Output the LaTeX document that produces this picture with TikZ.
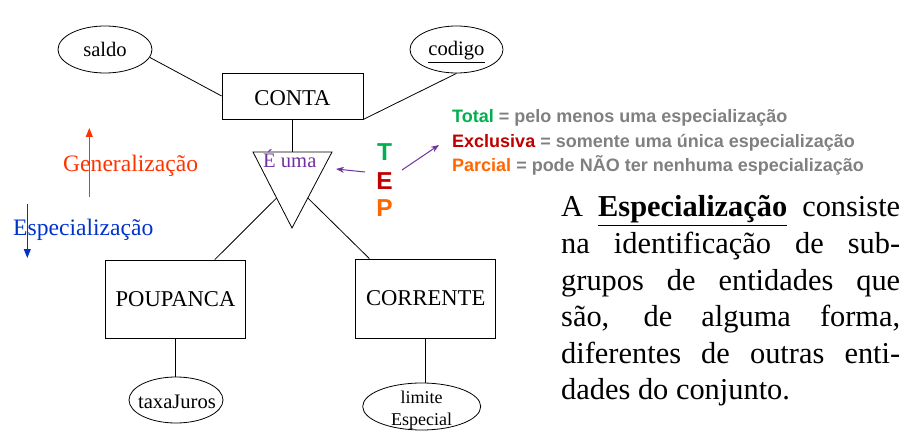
\documentclass[tikz,border=0pt]{standalone}
\usepackage{fontspec}
\setmainfont{Liberation Serif}
\newfontfamily\legendfont{Liberation Sans}
\usetikzlibrary{shapes.geometric,arrows.meta,calc}
\definecolor{gencol}{HTML}{FF3300}
\definecolor{espcol}{HTML}{0033CC}
\definecolor{purp}{HTML}{7030A0}
\definecolor{tgreen}{HTML}{00B050}
\definecolor{ered}{HTML}{C00000}
\definecolor{porange}{HTML}{FF6600}
\definecolor{legrey}{HTML}{808080}
\begin{document}
\begin{tikzpicture}[x=1pt,y=-1pt,
  entity/.style={draw,line width=0.8pt,rectangle,inner sep=0pt,font=\fontsize{22.6}{27}\selectfont},
  attr/.style={draw,line width=0.8pt,ellipse,inner sep=0pt},
  lbl/.style={anchor=base,inner sep=0pt,font=\fontsize{20.6}{24}\selectfont},
  smalllbl/.style={anchor=base,inner sep=0pt,font=\fontsize{18}{22}\selectfont},
  conn/.style={line width=0.8pt},
  dirlbl/.style={anchor=base west,inner sep=0pt,font=\fontsize{23.6}{28}\selectfont},
  tep/.style={anchor=base,inner sep=0pt,font=\legendfont\bfseries\fontsize{24.5}{28}\selectfont},
  legend/.style={anchor=base west,inner sep=0pt,text=legrey,font=\legendfont\bfseries\fontsize{18}{22}\selectfont},
  parline/.style={anchor=base west,inner sep=0pt,font=\fontsize{30.4}{36.5}\selectfont},
  purparrow/.style={draw=purp,line width=1pt,-{Stealth[length=8pt,width=6pt]}},
]
\useasboundingbox (0,0) rectangle (917,438);

% entities
\node[entity,minimum width=141pt,minimum height=46pt,text height=20pt,text depth=0pt] (conta) at (292.5,96) {CONTA};
\node[entity,minimum width=139.6pt,minimum height=78pt] (pou) at (175.5,299) {POUPANCA};
\node[entity,minimum width=140pt,minimum height=79pt] (cor) at (425.7,298.5) {CORRENTE};

% attributes
\node[attr,minimum width=94pt,minimum height=47pt] (saldo) at (105,49.5) {};
\node[lbl] (saldoT) at (105,57) {saldo};
\node[attr,minimum width=93pt,minimum height=47pt] (codigo) at (456.5,49.5) {};
\node[lbl] (codigoT) at (456.5,56) {\underline{codigo}};
\node[attr,minimum width=94pt,minimum height=46pt] (taxa) at (176,400) {};
\node[lbl] (taxaT) at (177,408) {taxaJuros};
\node[attr,minimum width=118pt,minimum height=47pt] (lim) at (421.7,406.5) {};
\node[smalllbl] (limT1) at (421.7,403) {limite};
\node[smalllbl] (limT2) at (421.7,425) {Especial};

% specialization triangle
\coordinate (tl) at (253,152);
\coordinate (tr) at (332,152);
\coordinate (tb) at (292,228);
\draw[conn] (tl) -- (tr) -- (tb) -- cycle;
\node[lbl,anchor=base west,text=purp] (euma) at (263,168) {É uma};
\coordinate (ttop) at ($(tl)!0.5!(tr)$);
\coordinate (tleft) at ($(tl)!0.605!(tb)$);
\coordinate (tright) at ($(tr)!0.605!(tb)$);

% connectors
\draw[conn] (saldo.-10) -- (conta.west);
\draw[conn] (codigo.south) -- (conta.south east);
\draw[conn] (conta.south) -- (ttop);
\draw[conn] ($(pou.north west)!0.78!(pou.north east)$) -- (tleft);
\draw[conn] ($(cor.north west)!0.10!(cor.north east)$) -- (tright);
\draw[conn] (pou.south) -- (pou.south |- taxa.north);
\draw[conn] (cor.south) -- ($(cor.south |- lim.north)+(0,0.5)$);

% generalization / specialization
\node[dirlbl,text=gencol] (gen) at (63,172) {Generalização};
\node[dirlbl,text=espcol] (esp) at (13,235) {Especialização};
\coordinate (genS) at (89.3,197);
\coordinate (genE) at (89.3,128);
\coordinate (espS) at (27.3,204);
\coordinate (espE) at (27.3,258);
\draw[gencol,line width=1pt,-{Triangle[length=9pt,width=7pt]}] (genS) -- (genE);
\draw[espcol,line width=1pt,-{Triangle[length=9pt,width=7pt]}] (espS) -- (espE);

% T E P
\node[tep,text=tgreen] (T) at (384.5,161) {T};
\node[tep,text=ered] (E) at (384.5,190) {E};
\node[tep,text=porange] (P) at (384.5,217) {P};
\coordinate (a1s) at (365,172);
\coordinate (a1e) at (336,169);
\coordinate (a2s) at (402,170);
\coordinate (a2e) at (439,145);
\draw[purparrow] (a1s) -- (a1e);
\draw[purparrow] (a2s) -- (a2e);

% legend
\node[legend] (leg1) at (452,123) {\textcolor{tgreen}{Total} = pelo menos uma especialização};
\node[legend] (leg2) at (452,148) {\textcolor{ered}{Exclusiva} = somente uma única especialização};
\node[legend] (leg3) at (452,172) {\textcolor{porange}{Parcial} = pode NÃO ter nenhuma especialização};

% paragraph
\node[parline] (p1) at (561,217) {\makebox[339pt][s]{A \textbf{\underline{Especialização}} consiste}};
\node[parline] (p2) at (561,253.5) {\makebox[339pt][s]{na identificação de sub-}};
\node[parline] (p3) at (561,290) {\makebox[339pt][s]{grupos de entidades que}};
\node[parline] (p4) at (561,326.5) {\makebox[339pt][s]{são, de alguma forma,}};
\node[parline] (p5) at (561,363) {\makebox[339pt][s]{diferentes de outras enti-}};
\node[parline] (p6) at (561,399.5) {dades do conjunto.};
\end{tikzpicture}
\end{document}
